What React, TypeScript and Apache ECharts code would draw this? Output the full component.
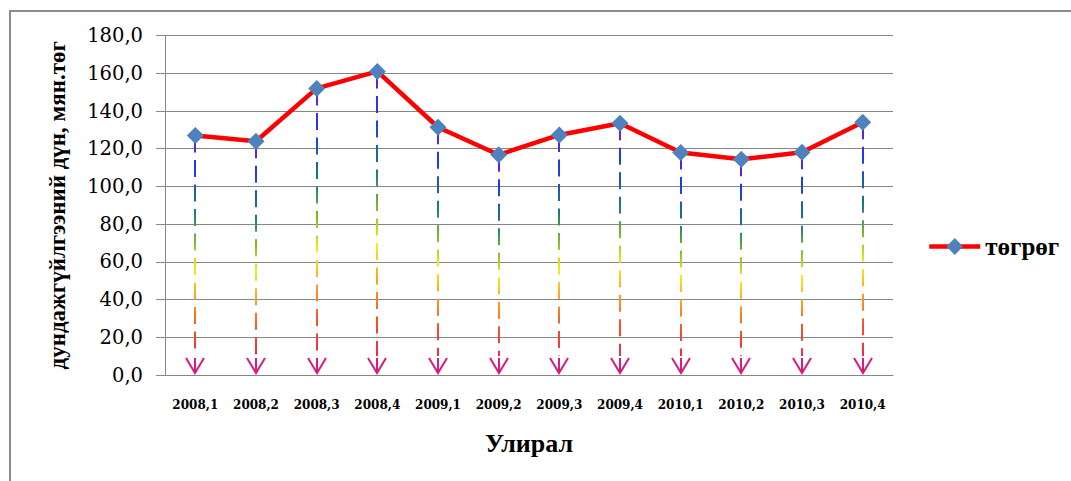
import React, { useEffect, useRef } from "react";
import * as echarts from "echarts";

const categories = [
  "2008,1", "2008,2", "2008,3", "2008,4",
  "2009,1", "2009,2", "2009,3", "2009,4",
  "2010,1", "2010,2", "2010,3", "2010,4",
];
const values = [127.0, 124.0, 152.0, 161.0, 131.4, 116.8, 127.3, 133.5, 118.0, 114.4, 118.1, 134.0];
const seriesName = "төгрөг";
const yAxisName = "дундажгүйлгээний дүн, мян.төг";
const xAxisName = "Улирал";

const dropStops = [
  { offset: 0, color: "#7a1ad6" },
  { offset: 0.15, color: "#1a3cf0" },
  { offset: 0.35, color: "#1e7a7a" },
  { offset: 0.48, color: "#7dbf2a" },
  { offset: 0.6, color: "#f2ef1a" },
  { offset: 0.73, color: "#ffa020" },
  { offset: 0.86, color: "#f2562a" },
  { offset: 1, color: "#e8284f" },
];
const arrowColor = "#d81b7e";

export default function App() {
  const ref = useRef<HTMLDivElement>(null);
  useEffect(() => {
    if (!ref.current) return;
    const chart = echarts.init(ref.current, undefined, { renderer: "svg" });
    const serif = "'Liberation Serif', 'Times New Roman', serif";
    chart.setOption({
      animation: false,
      backgroundColor: "#ffffff",
      graphic: [
        {
          type: "rect",
          shape: { x: 10, y: 11, width: 1100, height: 500 },
          style: { fill: "none", stroke: "#8c8c8c", lineWidth: 2 },
          silent: true,
        },
      ],
      grid: { left: 165, right: 178, top: 35.6, bottom: 106, containLabel: false },
      legend: {
        left: 927,
        top: 234,
        padding: 0,
        itemWidth: 51,
        itemHeight: 21,
        itemGap: 4,
        lineStyle: { width: 4.5 },
        textStyle: { fontFamily: serif, fontWeight: "bold", fontSize: 25, color: "#000" },
        data: [seriesName],
      },
      xAxis: {
        type: "category",
        data: categories,
        boundaryGap: true,
        name: xAxisName,
        nameLocation: "middle",
        nameGap: 55,
        nameTextStyle: { fontFamily: serif, fontWeight: "bold", fontSize: 26, color: "#000" },
        axisLine: { lineStyle: { color: "#868686", width: 1 } },
        axisTick: { show: false },
        axisLabel: {
          interval: 0,
          margin: 24,
          fontFamily: "'DejaVu Serif', serif",
          fontWeight: "bold",
          fontSize: 12,
          color: "#000",
        },
      },
      yAxis: {
        type: "value",
        min: 0,
        max: 180,
        interval: 20,
        name: yAxisName,
        nameLocation: "middle",
        nameRotate: 90,
        nameGap: 96,
        nameTextStyle: { fontFamily: serif, fontWeight: "bold", fontSize: 23, color: "#000" },
        axisLine: { show: true, lineStyle: { color: "#868686", width: 1 } },
        axisTick: { show: true, length: 9, lineStyle: { color: "#868686" } },
        splitLine: { lineStyle: { color: "#868686", width: 1 } },
        axisLabel: {
          margin: 22,
          fontFamily: "'DejaVu Serif', serif",
          fontSize: 19.5,
          color: "#000",
          formatter: (v: number) => v.toFixed(1).replace(".", ","),
        },
      },
      series: [
        {
          type: "custom",
          name: "drops",
          z: 1,
          silent: true,
          encode: { x: 0, y: 1 },
          data: values.map((v, i) => [i, v]),
          renderItem: (params: any, api: any) => {
            const idx = api.value(0);
            const v = api.value(1);
            const top = api.coord([idx, v]);
            const bottom = api.coord([idx, 0]);
            const x = Math.round(top[0]);
            const tipY = bottom[1] - 2;
            const arrowTop = tipY - 15;
            return {
              type: "group",
              children: [
                {
                  type: "line",
                  shape: { x1: x, y1: top[1], x2: x, y2: arrowTop - 2 },
                  style: {
                    stroke: new echarts.graphic.LinearGradient(x, top[1], x, arrowTop, dropStops, true),
                    lineWidth: 2,
                    lineDash: [17, 7.5],
                  },
                },
                {
                  type: "line",
                  shape: { x1: x, y1: arrowTop, x2: x, y2: tipY },
                  style: { stroke: arrowColor, lineWidth: 2 },
                },
                {
                  type: "polyline",
                  shape: { points: [[x - 9, arrowTop], [x, tipY], [x + 9, arrowTop]] },
                  style: { stroke: arrowColor, lineWidth: 2, fill: "none" },
                },
              ],
            };
          },
        },
        {
          type: "line",
          name: seriesName,
          z: 3,
          data: values,
          symbol: "diamond",
          symbolSize: 17,
          itemStyle: { color: "#4f81bd" },
          lineStyle: { color: "#ff0000", width: 4.5 },
        },
      ],
    });
    return () => chart.dispose();
  }, []);
  return <div ref={ref} style={{ position: "absolute", left: 0, top: 0, width: 1071, height: 481 }} />;
}
